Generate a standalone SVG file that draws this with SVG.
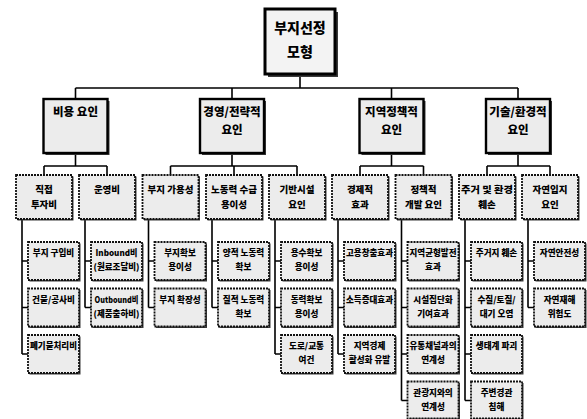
<svg xmlns="http://www.w3.org/2000/svg" width="587" height="419" viewBox="0 0 587 419">
<style>
.bg{fill:#ffffff}
.sh{fill:#3a3a3a}
.r0{fill:#f3f3f3;stroke:#000;stroke-width:3}
.r1{fill:#ececec;stroke:#000;stroke-width:2.4}
.r2{fill:#ececec;stroke:#111;stroke-width:1.8;stroke-dasharray:2 1}
.c{fill:none;stroke:#000;stroke-width:1.6}
text{font-family:"Noto Sans CJK KR","Noto Sans",sans-serif;font-weight:900;text-anchor:middle;fill:#000}
.t0{font-size:14px}
.t1{font-size:11.5px}
.t2{font-size:9.5px}
.t3{font-size:8.6px}
</style>
<rect class="bg" x="0" y="0" width="587" height="419"/>

<g id="connectors">
<path class="c" d="M300 74V88M75.5 88H518M75.5 88V99M232 88V99M391.5 88V99M518 88V99"/>
<path class="c" d="M75.5 153V166M44 166H107M44 166V175M107 166V175"/>
<path class="c" d="M232 153V166M170.5 166H297M170.5 166V175M234 166V175M297 166V175"/>
<path class="c" d="M391.5 153V166M360 166H423.5M360 166V175M423.5 166V175"/>
<path class="c" d="M518 153V166M487 166H550M487 166V175M550 166V175"/>
<path class="c" d="M22 219V354M22 261H28M22 307.5H28M22 354H28"/>
<path class="c" d="M85 219V307.5M85 261H91M85 307.5H91"/>
<path class="c" d="M148.5 219V307.5M148.5 261H154.5M148.5 307.5H154.5"/>
<path class="c" d="M212 219V307.5M212 261H218M212 307.5H218"/>
<path class="c" d="M275 219V354M275 261H281M275 307.5H281M275 354H281"/>
<path class="c" d="M338 219V354M338 261H344M338 307.5H344M338 354H344"/>
<path class="c" d="M401.5 219V400.5M401.5 261H407.5M401.5 307.5H407.5M401.5 354H407.5M401.5 400.5H407.5"/>
<path class="c" d="M465 219V400.5M465 261H471M465 307.5H471M465 354H471M465 400.5H471"/>
<path class="c" d="M528 219V307.5M528 261H534M528 307.5H534"/>
</g>

<g id="root">
<rect class="sh" x="268" y="12" width="70" height="65"/>
<rect class="r0" x="265" y="9" width="70" height="65"/>
<text class="t0" x="300" y="33">부지선정</text>
<text class="t0" x="300" y="57">모형</text>
</g>

<g id="n-cost">
<rect class="sh" x="45.5" y="101" width="64" height="54"/>
<rect class="r1" x="43.5" y="99" width="64" height="54"/>
<text class="t1" x="75.5" y="116">비용 요인</text>
</g>
<g id="n-mgmt">
<rect class="sh" x="202" y="101" width="64" height="54"/>
<rect class="r1" x="200" y="99" width="64" height="54"/>
<text class="t1" x="232" y="116">경영/전략적</text>
<text class="t1" x="232" y="134">요인</text>
</g>
<g id="n-policy">
<rect class="sh" x="361.5" y="101" width="64" height="54"/>
<rect class="r1" x="359.5" y="99" width="64" height="54"/>
<text class="t1" x="391.5" y="116">지역정책적</text>
<text class="t1" x="391.5" y="134">요인</text>
</g>
<g id="n-tech">
<rect class="sh" x="488" y="101" width="64" height="54"/>
<rect class="r1" x="486" y="99" width="64" height="54"/>
<text class="t1" x="518" y="116">기술/환경적</text>
<text class="t1" x="518" y="134">요인</text>
</g>

<g id="n-direct">
<rect class="sh" x="17.5" y="176.5" width="56" height="44"/>
<rect class="r2" x="16" y="175" width="56" height="44"/>
<text class="t2" x="44" y="193">직접</text>
<text class="t2" x="44" y="208">투자비</text>
</g>
<g id="n-oper">
<rect class="sh" x="80.5" y="176.5" width="56" height="44"/>
<rect class="r2" x="79" y="175" width="56" height="44"/>
<text class="t2" x="107" y="193">운영비</text>
</g>
<g id="n-site">
<rect class="sh" x="144" y="176.5" width="56" height="44"/>
<rect class="r2" x="142.5" y="175" width="56" height="44"/>
<text class="t2" x="170.5" y="193">부지 가용성</text>
</g>
<g id="n-labor">
<rect class="sh" x="207.5" y="176.5" width="56" height="44"/>
<rect class="r2" x="206" y="175" width="56" height="44"/>
<text class="t2" x="234" y="193">노동력 수급</text>
<text class="t2" x="234" y="208">용이성</text>
</g>
<g id="n-infra">
<rect class="sh" x="270.5" y="176.5" width="56" height="44"/>
<rect class="r2" x="269" y="175" width="56" height="44"/>
<text class="t2" x="297" y="193">기반시설</text>
<text class="t2" x="297" y="208">요인</text>
</g>
<g id="n-econ">
<rect class="sh" x="333.5" y="176.5" width="56" height="44"/>
<rect class="r2" x="332" y="175" width="56" height="44"/>
<text class="t2" x="360" y="193">경제적</text>
<text class="t2" x="360" y="208">효과</text>
</g>
<g id="n-devel">
<rect class="sh" x="397" y="176.5" width="56" height="44"/>
<rect class="r2" x="395.5" y="175" width="56" height="44"/>
<text class="t2" x="423.5" y="193">정책적</text>
<text class="t2" x="423.5" y="208">개발 요인</text>
</g>
<g id="n-resid">
<rect class="sh" x="460.5" y="176.5" width="56" height="44"/>
<rect class="r2" x="459" y="175" width="56" height="44"/>
<text class="t2" x="487" y="193" textLength="52" lengthAdjust="spacingAndGlyphs">주거 및 환경</text>
<text class="t2" x="487" y="208">훼손</text>
</g>
<g id="n-nature">
<rect class="sh" x="523.5" y="176.5" width="56" height="44"/>
<rect class="r2" x="522" y="175" width="56" height="44"/>
<text class="t2" x="550" y="193">자연입지</text>
<text class="t2" x="550" y="208">요인</text>
</g>

<g id="l-buy">
<rect class="sh" x="29.5" y="243.5" width="51" height="38"/>
<rect class="r2" x="28" y="242" width="51" height="38"/>
<text class="t3" x="53.5" y="256">부지 구입비</text>
</g>
<g id="l-build">
<rect class="sh" x="29.5" y="290" width="51" height="38"/>
<rect class="r2" x="28" y="288.5" width="51" height="38"/>
<text class="t3" x="53.5" y="302.5">건물/공사비</text>
</g>
<g id="l-waste">
<rect class="sh" x="29.5" y="336.5" width="51" height="38"/>
<rect class="r2" x="28" y="335" width="51" height="38"/>
<text class="t3" x="53.5" y="349" textLength="47" lengthAdjust="spacingAndGlyphs">폐기물처리비</text>
</g>

<g id="l-inbound">
<rect class="sh" x="92.5" y="243.5" width="51" height="38"/>
<rect class="r2" x="91" y="242" width="51" height="38"/>
<text class="t3" x="116.5" y="256" textLength="42" lengthAdjust="spacingAndGlyphs">Inbound비</text>
<text class="t3" x="116.5" y="270" textLength="46" lengthAdjust="spacingAndGlyphs">(원료조달비)</text>
</g>
<g id="l-outbound">
<rect class="sh" x="92.5" y="290" width="51" height="38"/>
<rect class="r2" x="91" y="288.5" width="51" height="38"/>
<text class="t3" x="116.5" y="302.5" textLength="44" lengthAdjust="spacingAndGlyphs">Outbound비</text>
<text class="t3" x="116.5" y="316.5" textLength="46" lengthAdjust="spacingAndGlyphs">(제품출하비)</text>
</g>

<g id="l-secure">
<rect class="sh" x="156" y="243.5" width="51" height="38"/>
<rect class="r2" x="154.5" y="242" width="51" height="38"/>
<text class="t3" x="180" y="256">부지확보</text>
<text class="t3" x="180" y="270">용이성</text>
</g>
<g id="l-expand">
<rect class="sh" x="156" y="290" width="51" height="38"/>
<rect class="r2" x="154.5" y="288.5" width="51" height="38"/>
<text class="t3" x="180" y="302.5">부지 확장성</text>
</g>

<g id="l-quant">
<rect class="sh" x="219.5" y="243.5" width="51" height="38"/>
<rect class="r2" x="218" y="242" width="51" height="38"/>
<text class="t3" x="243.5" y="256">양적 노동력</text>
<text class="t3" x="243.5" y="270">확보</text>
</g>
<g id="l-qual">
<rect class="sh" x="219.5" y="290" width="51" height="38"/>
<rect class="r2" x="218" y="288.5" width="51" height="38"/>
<text class="t3" x="243.5" y="302.5">질적 노동력</text>
<text class="t3" x="243.5" y="316.5">확보</text>
</g>

<g id="l-water">
<rect class="sh" x="282.5" y="243.5" width="51" height="38"/>
<rect class="r2" x="281" y="242" width="51" height="38"/>
<text class="t3" x="306.5" y="256">용수확보</text>
<text class="t3" x="306.5" y="270">용이성</text>
</g>
<g id="l-power">
<rect class="sh" x="282.5" y="290" width="51" height="38"/>
<rect class="r2" x="281" y="288.5" width="51" height="38"/>
<text class="t3" x="306.5" y="302.5">동력확보</text>
<text class="t3" x="306.5" y="316.5">용이성</text>
</g>
<g id="l-road">
<rect class="sh" x="282.5" y="336.5" width="51" height="38"/>
<rect class="r2" x="281" y="335" width="51" height="38"/>
<text class="t3" x="306.5" y="349">도로/교통</text>
<text class="t3" x="306.5" y="363">여건</text>
</g>

<g id="l-employ">
<rect class="sh" x="345.5" y="243.5" width="51" height="38"/>
<rect class="r2" x="344" y="242" width="51" height="38"/>
<text class="t3" x="369.5" y="256" textLength="47" lengthAdjust="spacingAndGlyphs">고용창출효과</text>
</g>
<g id="l-income">
<rect class="sh" x="345.5" y="290" width="51" height="38"/>
<rect class="r2" x="344" y="288.5" width="51" height="38"/>
<text class="t3" x="369.5" y="302.5" textLength="47" lengthAdjust="spacingAndGlyphs">소득증대효과</text>
</g>
<g id="l-region">
<rect class="sh" x="345.5" y="336.5" width="51" height="38"/>
<rect class="r2" x="344" y="335" width="51" height="38"/>
<text class="t3" x="369.5" y="349">지역경제</text>
<text class="t3" x="369.5" y="363">활성화 유발</text>
</g>

<g id="l-balance">
<rect class="sh" x="409" y="243.5" width="51" height="38"/>
<rect class="r2" x="407.5" y="242" width="51" height="38"/>
<text class="t3" x="433" y="256" textLength="47" lengthAdjust="spacingAndGlyphs">지역균형발전</text>
<text class="t3" x="433" y="270">효과</text>
</g>
<g id="l-cluster">
<rect class="sh" x="409" y="290" width="51" height="38"/>
<rect class="r2" x="407.5" y="288.5" width="51" height="38"/>
<text class="t3" x="433" y="302.5">시설집단화</text>
<text class="t3" x="433" y="316.5">기여효과</text>
</g>
<g id="l-channel">
<rect class="sh" x="409" y="336.5" width="51" height="38"/>
<rect class="r2" x="407.5" y="335" width="51" height="38"/>
<text class="t3" x="433" y="349" textLength="47" lengthAdjust="spacingAndGlyphs">유통채널과의</text>
<text class="t3" x="433" y="363">연계성</text>
</g>
<g id="l-tour">
<rect class="sh" x="409" y="383" width="51" height="37"/>
<rect class="r2" x="407.5" y="381.5" width="51" height="37"/>
<text class="t3" x="433" y="395.5">관광지와의</text>
<text class="t3" x="433" y="409.5">연계성</text>
</g>

<g id="l-house">
<rect class="sh" x="472.5" y="243.5" width="51" height="38"/>
<rect class="r2" x="471" y="242" width="51" height="38"/>
<text class="t3" x="496.5" y="256">주거지 훼손</text>
</g>
<g id="l-pollution">
<rect class="sh" x="472.5" y="290" width="51" height="38"/>
<rect class="r2" x="471" y="288.5" width="51" height="38"/>
<text class="t3" x="496.5" y="302.5">수질/토질/</text>
<text class="t3" x="496.5" y="316.5">대기 오염</text>
</g>
<g id="l-eco">
<rect class="sh" x="472.5" y="336.5" width="51" height="38"/>
<rect class="r2" x="471" y="335" width="51" height="38"/>
<text class="t3" x="496.5" y="349">생태계 파괴</text>
</g>
<g id="l-scenery">
<rect class="sh" x="472.5" y="383" width="51" height="37"/>
<rect class="r2" x="471" y="381.5" width="51" height="37"/>
<text class="t3" x="496.5" y="395.5">주변경관</text>
<text class="t3" x="496.5" y="409.5">침해</text>
</g>

<g id="l-safety">
<rect class="sh" x="535.5" y="243.5" width="51" height="38"/>
<rect class="r2" x="534" y="242" width="51" height="38"/>
<text class="t3" x="559.5" y="256">자연안전성</text>
</g>
<g id="l-disaster">
<rect class="sh" x="535.5" y="290" width="51" height="38"/>
<rect class="r2" x="534" y="288.5" width="51" height="38"/>
<text class="t3" x="559.5" y="302.5">자연재해</text>
<text class="t3" x="559.5" y="316.5">위험도</text>
</g>
</svg>
